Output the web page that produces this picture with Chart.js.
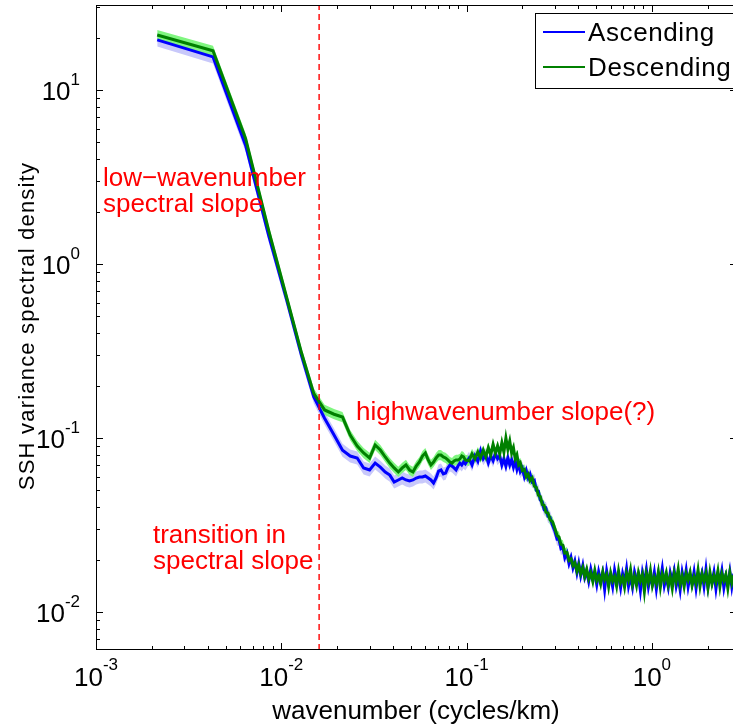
<!DOCTYPE html>
<html><head><meta charset="utf-8">
<script src="https://cdn.jsdelivr.net/npm/chart.js@4.4.0/dist/chart.umd.min.js"></script>
<style>html,body{margin:0;padding:0;overflow:hidden;background:#fff;width:733px;height:726px}canvas{display:block}</style>
</head><body>
<canvas id="c" width="740" height="726" style="width:740px;height:726px"></canvas>
<script>
// wavenumber (cycles/km)
const wavenumber = [
0.00214,0.00428,0.00642,0.00856,0.0107,0.01284,0.01498,0.01712,0.01926,0.0214,
0.02354,0.02568,0.02782,0.02996,0.0321,0.03424,0.03638,0.03852,0.04066,0.0428,
0.04494,0.04708,0.04922,0.05136,0.0535,0.05564,0.05778,0.05992,0.06206,0.0642,
0.06634,0.06848,0.07062,0.07276,0.0749,0.07704,0.07918,0.08132,0.08346,0.0856,
0.08774,0.08988,0.09202,0.09416,0.0963,0.09844,
0.103,0.107,0.111,0.115,0.119,0.123,0.127,0.131,0.135,0.139,
0.143,0.147,0.151,0.155,0.159,0.163,0.167,0.171,0.175,0.179,
0.183,0.187,0.191,0.195,0.200,0.205,0.210,0.215,0.220,0.226,
0.232,0.238,0.244,0.250,0.256,0.262,0.268,0.275,0.282,0.291,
0.300,0.308,0.315,0.323,0.331,0.339,0.348,0.357,0.366,0.375,
0.384,0.394,0.403,0.413,0.424,0.434,0.445,0.456,0.468,0.480,
0.492,0.504,0.516,0.529,0.543,0.556,0.570,0.584,0.599,0.614,
0.629,0.645,0.661,0.678,0.695,0.712,0.730,0.748,0.767,0.786,
0.806,0.826,0.846,0.867,0.889,0.911,0.934,0.958,0.982,1.006,
1.031,1.057,1.084,1.111,1.138,1.167,1.196,1.226,1.256,1.288,
1.320,1.353,1.387,1.421,1.457,1.493,1.531,1.569,1.608,1.648,
1.689,1.732,1.775,1.819,1.865,1.911,1.959,2.008,2.058,2.110,
2.163,2.217,2.272,2.329,2.387,2.447,2.508,2.570,2.635,2.700,2.768
];
const ascending = [
19.4,15.5,4.8,1.45,0.62,0.30,0.172,0.130,0.104,0.085,
0.0788,0.0768,0.0673,0.0655,0.0718,0.068,0.0638,0.0612,0.0558,0.0574,
0.0589,0.0574,0.0566,0.0574,0.0589,0.0597,0.0597,0.0605,0.0589,0.0574,
0.0551,0.0589,0.0646,0.0655,0.0621,0.0628,0.0673,0.070,0.069,0.0673,
0.0655,0.069,0.0718,0.070,0.0728,0.071,
0.0765,0.0700,0.0790,0.0735,0.0845,0.0760,0.0800,0.0720,0.0790,0.0740,
0.0815,0.0760,0.0790,0.0700,0.0760,0.0690,0.0770,0.0700,0.0750,0.0680,
0.0740,0.0660,0.0710,0.0640,0.0670,0.0600,0.0650,0.0590,0.0620,0.0560,
0.0570,0.0500,0.0495,0.0440,0.0430,0.0390,0.0395,0.0355,0.0350,0.0315,
0.0290,0.0262,0.0262,0.0232,0.0236,0.0205,0.0218,0.0190,0.0206,0.0180,
0.0196,0.0168,0.0190,0.0162,0.0185,0.0158,0.0171,0.0150,0.0176,0.0156,
0.0166,0.0144,0.0170,0.0151,0.0168,0.0135,0.0172,0.0149,0.0160,0.0140,
0.0174,0.0152,0.0162,0.0138,0.0166,0.0149,0.0177,0.0141,0.0160,0.0139,
0.0170,0.0153,0.0163,0.0133,0.0168,0.0147,0.0175,0.0140,0.0161,0.0145,
0.0169,0.0136,0.0165,0.0151,0.0178,0.0142,0.0160,0.0139,0.0168,0.0150,
0.0172,0.0141,0.0159,0.0134,0.0169,0.0148,0.0174,0.0140,0.0162,0.0146,
0.0170,0.0137,0.0165,0.0152,0.0168,0.0141,0.0176,0.0139,0.0161,0.0148,
0.0169,0.0136,0.0165,0.0150,0.0173,0.0138,0.0160,0.0145,0.0171,0.0140,0.0166
];
const descending = [
20.7,16.8,5.25,1.55,0.64,0.31,0.18,0.145,0.137,0.132,
0.104,0.090,0.082,0.0768,0.0912,0.0853,0.0778,0.0718,0.0673,0.0638,
0.0673,0.070,0.0655,0.0638,0.069,0.0728,0.0788,0.082,0.0748,0.070,
0.0728,0.0768,0.0798,0.0798,0.0778,0.0768,0.0748,0.0728,0.0718,0.0738,
0.0748,0.0748,0.0758,0.0788,0.0778,0.0748,
0.0740,0.0810,0.0760,0.0830,0.0770,0.0850,0.0780,0.0880,0.0800,0.0920,
0.0820,0.0900,0.0810,0.0940,0.0830,0.1000,0.0860,0.0960,0.0820,0.0880,
0.0760,0.0800,0.0700,0.0720,0.0650,0.0660,0.0600,0.0620,0.0570,0.0590,
0.0530,0.0520,0.0470,0.0460,0.0415,0.0410,0.0375,0.0370,0.0340,0.0330,
0.0300,0.0275,0.0270,0.0245,0.0242,0.0218,0.0220,0.0198,0.0202,0.0185,
0.0192,0.0172,0.0186,0.0166,0.0180,0.0160,0.0176,0.0155,0.0168,0.0150,
0.0173,0.0152,0.0161,0.0145,0.0170,0.0154,0.0164,0.0140,0.0168,0.0151,
0.0160,0.0141,0.0172,0.0148,0.0158,0.0139,0.0167,0.0153,0.0175,0.0144,
0.0160,0.0142,0.0168,0.0151,0.0164,0.0131,0.0166,0.0149,0.0173,0.0142,
0.0158,0.0146,0.0170,0.0139,0.0165,0.0152,0.0168,0.0143,0.0160,0.0137,
0.0167,0.0150,0.0176,0.0144,0.0161,0.0140,0.0166,0.0153,0.0169,0.0142,
0.0159,0.0146,0.0174,0.0141,0.0165,0.0151,0.0167,0.0138,0.0169,0.0145,
0.0162,0.0149,0.0172,0.0140,0.0166,0.0152,0.0164,0.0137,0.0168,0.0147,0.0163
];
const seriesNames = ['Ascending', 'Descending'];
const ciAscending = 1.09;   // multiplicative confidence factor
const ciDescending = 1.07;
const transitionK = 0.016;
const xRange = [0.001, 2.88];
const yRange = [0.00605, 30.8];
const xTickValues = [0.001, 0.01, 0.1, 1];
const xTickExps = ['-3', '-2', '-1', '0'];
const yTickValues = [0.01, 0.1, 1, 10];
const yTickExps = ['-2', '-1', '0', '1'];
const xTitle = 'wavenumber (cycles/km)';
const yTitle = 'SSH variance spectral density';
const notes = [
  { text: 'low\u2212wavenumber', x: 0.00109, y: 2.81 },
  { text: 'spectral slope', x: 0.00109, y: 1.99 },
  { text: 'transition in', x: 0.00203, y: 0.0249 },
  { text: 'spectral slope', x: 0.00203, y: 0.01766 },
  { text: 'highwavenumber slope(?)', x: 0.0253, y: 0.1268 }
];

const pts = (arr) => arr.map((v, i) => ({ x: wavenumber[i], y: v }));
const FONT = '"Liberation Sans", Arial, Helvetica, sans-serif';

const decor = {
  id: 'decor',
  afterDraw(chart) {
    const ctx = chart.ctx, a = chart.chartArea, xs = chart.scales.x, ys = chart.scales.y;
    ctx.save();
    ctx.strokeStyle = '#000'; ctx.lineWidth = 1;
    ctx.strokeRect(a.left + 0.5, a.top + 0.5, a.right - a.left - 1, a.bottom - a.top - 1);
    const seg = (x1, y1, x2, y2) => { ctx.beginPath(); ctx.moveTo(x1, y1); ctx.lineTo(x2, y2); ctx.stroke(); };
    for (let e = -3; e <= 0; e++) for (let m = 1; m <= 9; m++) {
      const v = m * Math.pow(10, e);
      if (v < xRange[0] || v > xRange[1]) continue;
      const px = Math.round(xs.getPixelForValue(v)) + 0.5;
      const len = m === 1 ? 7 : 4;
      seg(px, a.bottom, px, a.bottom - len);
      seg(px, a.top, px, a.top + len);
    }
    for (let e = -3; e <= 1; e++) for (let m = 1; m <= 9; m++) {
      const v = m * Math.pow(10, e);
      if (v < yRange[0] || v > yRange[1]) continue;
      const py = Math.round(ys.getPixelForValue(v)) + 0.5;
      const len = m === 1 ? 7 : 4;
      seg(a.left, py, a.left + len, py);
      seg(a.right, py, a.right - len, py);
    }
    // tick labels
    const baseF = '26px ' + FONT, expF = '17px ' + FONT;
    ctx.fillStyle = '#000'; ctx.textBaseline = 'alphabetic'; ctx.textAlign = 'left';
    xTickValues.forEach((v, i) => {
      const px = xs.getPixelForValue(v);
      ctx.font = baseF; const wb = ctx.measureText('10').width;
      ctx.font = expF; const we = ctx.measureText(xTickExps[i]).width;
      const x0 = px - (wb + we) / 2;
      ctx.font = baseF; ctx.fillText('10', x0, 686);
      ctx.font = expF; ctx.fillText(xTickExps[i], x0 + wb, 670);
    });
    yTickValues.forEach((v, i) => {
      const py = ys.getPixelForValue(v);
      ctx.font = baseF; const wb = ctx.measureText('10').width;
      ctx.font = expF; const we = ctx.measureText(yTickExps[i]).width;
      const x0 = 80 - (wb + we);
      ctx.font = baseF; ctx.fillText('10', x0, py + 9.5);
      ctx.font = expF; ctx.fillText(yTickExps[i], x0 + wb, py - 5);
    });
    // axis titles
    ctx.font = '26px ' + FONT; ctx.textAlign = 'center';
    ctx.fillText(xTitle, 416, 719);
    ctx.save();
    ctx.translate(34, 326);
    ctx.rotate(-Math.PI / 2);
    ctx.font = '22px ' + FONT;
    try { ctx.letterSpacing = '1.2px'; } catch (e) {}
    ctx.fillText(yTitle, 0, 0);
    ctx.restore();
    // annotations
    ctx.fillStyle = '#FF0000'; ctx.textAlign = 'left'; ctx.font = '26px ' + FONT;
    notes.forEach(n => ctx.fillText(n.text, xs.getPixelForValue(n.x), ys.getPixelForValue(n.y)));
    // legend
    ctx.fillStyle = '#fff';
    ctx.fillRect(535.5, 13.5, 220, 75);
    ctx.strokeStyle = '#000'; ctx.lineWidth = 1;
    ctx.strokeRect(535.5, 13.5, 220, 75);
    const leg = [chart.data.datasets.find(d => d.label === seriesNames[0]), chart.data.datasets.find(d => d.label === seriesNames[1])];
    leg.forEach((d, i) => {
      const yy = 32 + i * 35;
      ctx.strokeStyle = d.borderColor; ctx.lineWidth = 2;
      seg(543, yy, 585, yy);
      ctx.fillStyle = '#000'; ctx.font = '26px ' + FONT;
      ctx.save();
      try { ctx.letterSpacing = '0.6px'; } catch (e) {}
      ctx.fillText(d.label, 588, yy + 9);
      ctx.restore();
    });
    ctx.restore();
  }
};

new Chart(document.getElementById('c'), {
  type: 'line',
  data: {
    datasets: [
      { label: 'transition', data: [{ x: transitionK, y: yRange[0] }, { x: transitionK, y: yRange[1] }],
        borderColor: '#FF0000', borderWidth: 1.4, borderDash: [6, 4], pointRadius: 0, fill: false },
      { label: seriesNames[1], data: pts(descending), borderColor: '#008000', borderWidth: 3, pointRadius: 0, fill: false, tension: 0 },
      { label: seriesNames[0], data: pts(ascending), borderColor: '#0000FF', borderWidth: 3, pointRadius: 0, fill: false, tension: 0 },
      { label: 'descUpper', data: pts(descending.map(v => v * ciDescending)), borderWidth: 0, borderColor: 'rgba(0,0,0,0)', pointRadius: 0, fill: '+1', backgroundColor: 'rgb(128,246,128)' },
      { label: 'descLower', data: pts(descending.map(v => v / ciDescending)), borderWidth: 0, borderColor: 'rgba(0,0,0,0)', pointRadius: 0, fill: false },
      { label: 'ascUpper', data: pts(ascending.map(v => v * ciAscending)), borderWidth: 0, borderColor: 'rgba(0,0,0,0)', pointRadius: 0, fill: '+1', backgroundColor: 'rgb(200,200,250)' },
      { label: 'ascLower', data: pts(ascending.map(v => v / ciAscending)), borderWidth: 0, borderColor: 'rgba(0,0,0,0)', pointRadius: 0, fill: false }
    ]
  },
  options: {
    responsive: false, animation: false, devicePixelRatio: 1,
    layout: { padding: { top: 5, right: 3, left: 0, bottom: 0 } },
    plugins: { legend: { display: false }, tooltip: { enabled: false } },
    scales: {
      x: { type: 'logarithmic', min: xRange[0], max: xRange[1],
           grid: { display: false }, border: { display: false }, ticks: { display: false },
           afterFit: (s) => { s.height = 76; } },
      y: { type: 'logarithmic', min: yRange[0], max: yRange[1],
           grid: { display: false }, border: { display: false }, ticks: { display: false },
           afterFit: (s) => { s.width = 96; } }
    }
  },
  plugins: [decor]
});
</script>
</body></html>
